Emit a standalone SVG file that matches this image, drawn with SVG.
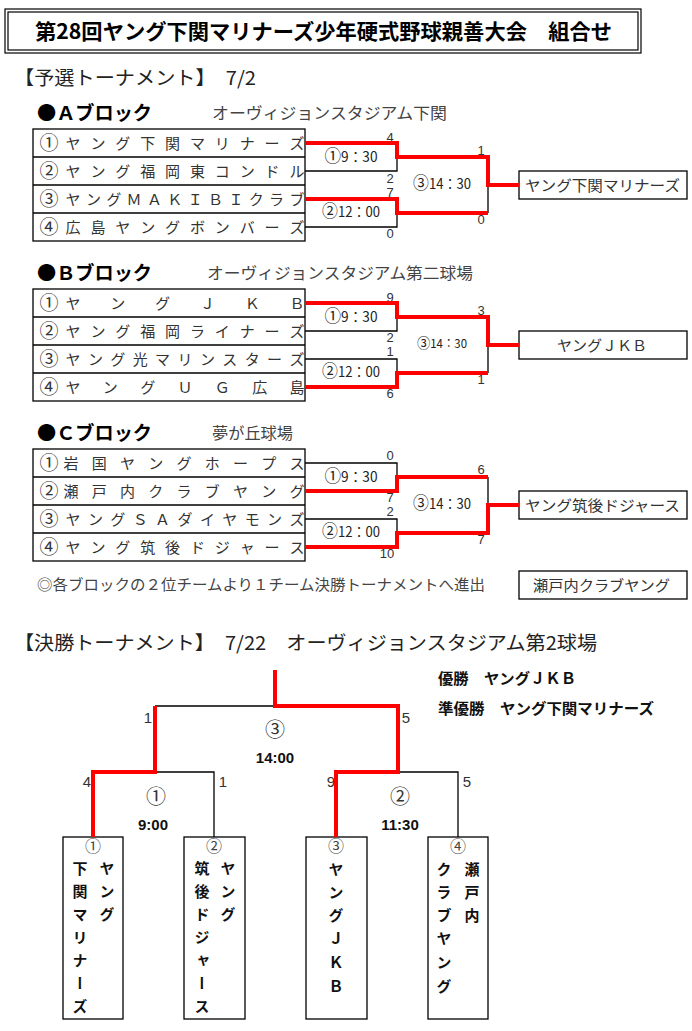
<svg xmlns="http://www.w3.org/2000/svg" width="692" height="1031" viewBox="0 0 692 1031">
<style>
text{font-family:"Noto Sans CJK JP","Noto Sans",sans-serif;}
.ttl{font-size:21px;font-weight:700;fill:#000}
.sec{font-size:19px;fill:#222}
.hdr{font-size:19px;font-weight:700;fill:#000}
.ven{font-size:16px;fill:#444}
.team{font-size:15px;fill:#333;text-anchor:middle}
.num{font-size:19px;fill:#333;text-anchor:middle}
.game{font-size:14px;fill:#222;text-anchor:middle}
.cn{font-size:17px}
.sc{font-size:13px;fill:#333;text-anchor:middle;font-family:"Liberation Sans",sans-serif}
.win{font-size:15px;fill:#333;text-anchor:middle}
.bold{font-size:15px;font-weight:700;fill:#111}
.circ{font-size:20px;fill:#333;text-anchor:middle}
.time{font-size:15px;font-weight:700;fill:#111;text-anchor:middle;font-family:"Liberation Sans",sans-serif}
.fsc{font-size:15px;fill:#333;text-anchor:middle;font-family:"Liberation Sans",sans-serif}
.bc{font-size:16px;fill:#444;text-anchor:middle}
.vt{font-size:15px;font-weight:700;fill:#111;writing-mode:vertical-rl;text-orientation:upright}
.box{fill:#fff;stroke:#000;stroke-width:1.3}
.ln{fill:none;stroke:#000;stroke-width:1.3}
.red{fill:none;stroke:#f00;stroke-width:4;stroke-linejoin:miter}
</style>

<g id="title">
<rect x="5" y="9" width="636" height="44" fill="#fff" stroke="#000" stroke-width="1.2"/>
<rect x="8" y="12" width="630" height="38" fill="none" stroke="#000" stroke-width="1.2"/>
<text class="ttl" x="35" y="39" textLength="577" lengthAdjust="spacingAndGlyphs">第28回ヤング下関マリナーズ少年硬式野球親善大会　組合せ</text>
</g>

<g id="prelim-heading">
<text class="sec" x="14" y="85" textLength="242" lengthAdjust="spacingAndGlyphs">【予選トーナメント】　7/2</text>
</g>

<!-- Block A -->
<g id="blockA-header">
<text class="hdr" x="37" y="120" textLength="115" lengthAdjust="spacingAndGlyphs">●Ａブロック</text>
<text class="ven" x="212" y="119" textLength="235" lengthAdjust="spacingAndGlyphs">オーヴィジョンスタジアム下関</text>
</g>
<g id="blockA-teams">
<rect class="box" x="33" y="129" width="272" height="112"/>
<path class="ln" d="M33,157H305M33,185H305M33,213H305"/>
<text class="num" x="49" y="150">①</text>
<text class="team" x="73 97.9 122.8 147.7 172.6 197.4 222.3 247.2 272.1 297" y="149">ヤング下関マリナーズ</text>
<text class="num" x="49" y="178">②</text>
<text class="team" x="73 97.9 122.8 147.7 172.6 197.4 222.3 247.2 272.1 297" y="177">ヤング福岡東コンドル</text>
<text class="num" x="49" y="206">③</text>
<text class="team" x="73 93.4 113.7 134.1 154.5 174.8 195.2 215.5 235.9 256.3 276.6 297" y="205">ヤングＭＡＫＩＢＩクラブ</text>
<text class="num" x="49" y="234">④</text>
<text class="team" x="73 97.9 122.8 147.7 172.6 197.4 222.3 247.2 272.1 297" y="233">広島ヤングボンバーズ</text>
</g>
<g id="blockA-games">
<text class="game" x="351" y="162" textLength="53" lengthAdjust="spacingAndGlyphs"><tspan class="cn">①</tspan>9：30</text>
<text class="game" x="351" y="217" textLength="58" lengthAdjust="spacingAndGlyphs"><tspan class="cn">②</tspan>12：00</text>
<text class="game" x="442" y="189" textLength="58" lengthAdjust="spacingAndGlyphs"><tspan class="cn">③</tspan>14：30</text>
<text class="sc" x="390" y="142">4</text>
<text class="sc" x="390" y="183">2</text>
<text class="sc" x="390" y="197">7</text>
<text class="sc" x="390" y="238">0</text>
<text class="sc" x="481" y="155">1</text>
<text class="sc" x="481" y="224">0</text>
</g>
<g id="blockA-winner">
<rect class="box" x="519" y="171" width="168" height="28"/>
<text class="win" x="602.5" y="191" textLength="155" lengthAdjust="spacingAndGlyphs">ヤング下関マリナーズ</text>
</g>

<!-- Block B -->
<g id="blockB-header">
<text class="hdr" x="37" y="280" textLength="115" lengthAdjust="spacingAndGlyphs">●Ｂブロック</text>
<text class="ven" x="207" y="279" textLength="266" lengthAdjust="spacingAndGlyphs">オーヴィジョンスタジアム第二球場</text>
</g>
<g id="blockB-teams">
<rect class="box" x="33" y="289" width="272" height="112"/>
<path class="ln" d="M33,317H305M33,345H305M33,373H305"/>
<text class="num" x="49" y="310">①</text>
<text class="team" x="73 117.8 162.6 207.4 252.2 297" y="309">ヤングＪＫＢ</text>
<text class="num" x="49" y="338">②</text>
<text class="team" x="73 97.9 122.8 147.7 172.6 197.4 222.3 247.2 272.1 297" y="337">ヤング福岡ライナーズ</text>
<text class="num" x="49" y="366">③</text>
<text class="team" x="73 95.4 117.8 140.2 162.6 185 207.4 229.8 252.2 274.6 297" y="365">ヤング光マリンスターズ</text>
<text class="num" x="49" y="394">④</text>
<text class="team" x="73 110.3 147.7 185 222.3 259.7 297" y="393">ヤングＵＧ広島</text>
</g>
<g id="blockB-games">
<text class="game" x="351" y="322" textLength="53" lengthAdjust="spacingAndGlyphs"><tspan class="cn">①</tspan>9：30</text>
<text class="game" x="351" y="377" textLength="58" lengthAdjust="spacingAndGlyphs"><tspan class="cn">②</tspan>12：00</text>
<text class="game" x="442" y="348" style="font-size:12px" textLength="50" lengthAdjust="spacingAndGlyphs"><tspan style="font-size:14px">③</tspan>14：30</text>
<text class="sc" x="390" y="302">9</text>
<text class="sc" x="390" y="342">2</text>
<text class="sc" x="390" y="356">1</text>
<text class="sc" x="390" y="398">6</text>
<text class="sc" x="481" y="315">3</text>
<text class="sc" x="481" y="384">1</text>
</g>
<g id="blockB-winner">
<rect class="box" x="519" y="331" width="168" height="28"/>
<text class="win" x="602" y="351" textLength="90" lengthAdjust="spacingAndGlyphs">ヤングＪＫＢ</text>
</g>

<!-- Block C -->
<g id="blockC-header">
<text class="hdr" x="37" y="440" textLength="115" lengthAdjust="spacingAndGlyphs">●Ｃブロック</text>
<text class="ven" x="212" y="439" textLength="81" lengthAdjust="spacingAndGlyphs">夢が丘球場</text>
</g>
<g id="blockC-teams">
<rect class="box" x="33" y="449" width="272" height="112"/>
<path class="ln" d="M33,477H305M33,505H305M33,533H305"/>
<text class="num" x="49" y="470">①</text>
<text class="team" x="71 99.25 127.5 155.75 184 212.25 240.5 268.75 297" y="469">岩国ヤングホープス</text>
<text class="num" x="49" y="498">②</text>
<text class="team" x="71 99.25 127.5 155.75 184 212.25 240.5 268.75 297" y="497">瀬戸内クラブヤング</text>
<text class="num" x="49" y="526">③</text>
<text class="team" x="73 95.4 117.8 140.2 162.6 185 207.4 229.8 252.2 274.6 297" y="525">ヤングＳＡダイヤモンズ</text>
<text class="num" x="49" y="554">④</text>
<text class="team" x="73 97.9 122.8 147.7 172.6 197.4 222.3 247.2 272.1 297" y="553">ヤング筑後ドジャース</text>
</g>
<g id="blockC-games">
<text class="game" x="351" y="482" textLength="53" lengthAdjust="spacingAndGlyphs"><tspan class="cn">①</tspan>9：30</text>
<text class="game" x="351" y="537" textLength="58" lengthAdjust="spacingAndGlyphs"><tspan class="cn">②</tspan>12：00</text>
<text class="game" x="442" y="509" textLength="58" lengthAdjust="spacingAndGlyphs"><tspan class="cn">③</tspan>14：30</text>
<text class="sc" x="390" y="460">0</text>
<text class="sc" x="390" y="502">7</text>
<text class="sc" x="390" y="516">2</text>
<text class="sc" x="387" y="558">10</text>
<text class="sc" x="481" y="474">6</text>
<text class="sc" x="481" y="544">7</text>
</g>
<g id="blockC-winner">
<rect class="box" x="519" y="491" width="168" height="28"/>
<text class="win" x="602.5" y="511" textLength="155" lengthAdjust="spacingAndGlyphs">ヤング筑後ドジャース</text>
</g>
<g id="note">
<text class="ven" x="37" y="590" style="font-size:15px" textLength="448" lengthAdjust="spacingAndGlyphs">◎各ブロックの２位チームより１チーム決勝トーナメントへ進出</text>
</g>
<g id="second-place">
<rect class="box" x="519" y="571" width="168" height="28"/>
<text class="win" x="601.5" y="591" textLength="137" lengthAdjust="spacingAndGlyphs">瀬戸内クラブヤング</text>
</g>

<!-- Final -->
<g id="final-heading">
<text class="sec" x="14" y="650" textLength="583" lengthAdjust="spacingAndGlyphs">【決勝トーナメント】　7/22　オーヴィジョンスタジアム第2球場</text>
</g>
<g id="results">
<text class="bold" x="438" y="684" textLength="138" lengthAdjust="spacingAndGlyphs">優勝　ヤングＪＫＢ</text>
<text class="bold" x="438" y="714" textLength="216" lengthAdjust="spacingAndGlyphs">準優勝　ヤング下関マリナーズ</text>
</g>
<g id="final-games">
<text class="circ" x="275" y="737">③</text>
<text class="time" x="275" y="763">14:00</text>
<text class="circ" x="156" y="804">①</text>
<text class="time" x="153" y="830">9:00</text>
<text class="circ" x="400" y="804">②</text>
<text class="time" x="400" y="830">11:30</text>
<text class="fsc" x="148" y="723">1</text>
<text class="fsc" x="406" y="723">5</text>
<text class="fsc" x="87" y="787">4</text>
<text class="fsc" x="223" y="787">1</text>
<text class="fsc" x="331" y="787">9</text>
<text class="fsc" x="467" y="787">5</text>
</g>
<g id="final-team1">
<rect class="box" x="63" y="837" width="60" height="182"/>
<text class="bc" x="93" y="852">①</text>
<text class="vt" x="107" y="861 884 907">ヤング</text>
<text class="vt" x="80" y="861 884 907 930 953 976 999">下関マリナーズ</text>
</g>
<g id="final-team2">
<rect class="box" x="184" y="837" width="61" height="182"/>
<text class="bc" x="214" y="852">②</text>
<text class="vt" x="228" y="861 884 907">ヤング</text>
<text class="vt" x="202" y="861 884 907 930 953 976 999">筑後ドジャース</text>
</g>
<g id="final-team3">
<rect class="box" x="306" y="837" width="61" height="182"/>
<text class="bc" x="336" y="852">③</text>
<text class="vt" x="336" y="862 885 908 931 955 979">ヤングＪＫＢ</text>
</g>
<g id="final-team4">
<rect class="box" x="428" y="837" width="60" height="182"/>
<text class="bc" x="458" y="852">④</text>
<text class="vt" x="472" y="862 885 908">瀬戸内</text>
<text class="vt" x="444" y="862 885 908 931 955 979">クラブヤング</text>
</g>

<g id="connectors">
<path class="ln" d="M305,171H397V157M305,227H397V213M488,185V213"/>
<path class="ln" d="M305,331H397V317M305,359H397V373M488,345V373"/>
<path class="ln" d="M305,463H397V477M305,519H397V533M488,477V505"/>
<path class="ln" d="M155,706H275M155,772H214V837M398,772H458V837"/>
<path class="red" d="M305,143H397V157H488V185H519"/>
<path class="red" d="M305,199H397V213H488"/>
<path class="red" d="M305,303H397V317H488V345H519"/>
<path class="red" d="M305,387H397V373H488"/>
<path class="red" d="M305,491H397V477H488"/>
<path class="red" d="M305,547H397V533H488V505H519"/>
<path class="red" d="M275,670V706H398V772H336V837"/>
<path class="red" d="M155,706V772H93V837"/>
</g>
</svg>
